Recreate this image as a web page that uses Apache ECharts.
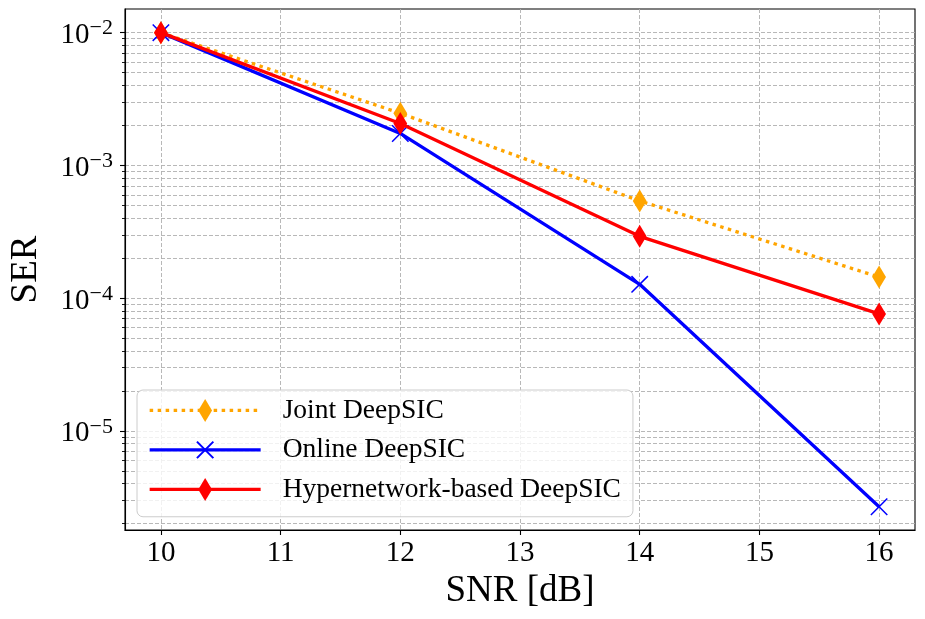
<!DOCTYPE html>
<html>
<head>
<meta charset="utf-8">
<script src="https://cdn.jsdelivr.net/npm/echarts@6/dist/echarts.min.js"></script>
<style>html,body{margin:0;padding:0;background:#fff}#c{width:925px;height:619px}</style>
</head>
<body>
<div id="c"></div>
<script>
const snr = [10, 12, 14, 16];
const jointSER = [1.0e-2, 2.47e-3, 5.4e-4, 1.44e-4];
const onlineSER = [1.0e-2, 1.74e-3, 1.27e-4, 2.68e-6];
const hyperSER = [1.0e-2, 2.07e-3, 2.92e-4, 7.6e-5];
const seriesNames = ['Joint DeepSIC', 'Online DeepSIC', 'Hypernetwork-based DeepSIC'];
const xTicks = [10, 11, 12, 13, 14, 15, 16];
const yMajor = [1e-5, 1e-4, 1e-3, 1e-2];
const yMinor = [];
[1e-6, 1e-5, 1e-4, 1e-3, 1e-2].forEach(d => { for (let k = 2; k <= 9; k++) yMinor.push(+(k * d).toPrecision(3)); });

const FONT = 'Liberation Serif';
const diamond = 'path://M-1,0M0,-1L0.6,0L0,1L-0.6,0Z M1,0';
const cross = 'path://M-0.2,-0.2M0,0L1,1M1,0L0,1M1.2,1.2';
const gridLine = { show: true, lineStyle: { color: '#b0b0b0', width: 0.9, type: [4, 2] } };
const LW = 3.3;

const chart = echarts.init(document.getElementById('c'), null, { renderer: 'canvas' });
const pairs = arr => snr.map((x, i) => [x, arr[i]]);
chart.setOption({
  animation: false,
  backgroundColor: '#fff',
  grid: { left: 123, right: 10, top: 9, bottom: 89, show: true, borderColor: '#000', borderWidth: 1.1, backgroundColor: 'transparent' },
  xAxis: {
    type: 'value', min: 9.7, max: 16.3,
    axisLine: { show: true, lineStyle: { color: '#000', width: 1.1 } },
    axisTick: { show: true, length: 5, lineStyle: { color: '#000', width: 1.1 }, customValues: xTicks },
    axisLabel: { customValues: xTicks, color: '#000', fontFamily: FONT, fontSize: 29, margin: 9 },
    splitLine: gridLine,
    name: 'SNR [dB]', nameLocation: 'middle', nameGap: 42,
    nameTextStyle: { color: '#000', fontFamily: FONT, fontSize: 37 }
  },
  yAxis: [{
    type: 'log', logBase: 10, min: 1.79e-6, max: 1.507e-2,
    axisLine: { show: true, lineStyle: { color: '#000', width: 1.1 } },
    axisTick: { show: true, length: 5, lineStyle: { color: '#000', width: 1.1 }, customValues: yMajor },
    axisLabel: {
      customValues: yMajor, margin: 12, color: '#000',
      formatter: v => { const e = Math.round(Math.log10(v)); return '{b|10}{s|−' + (-e) + '}'; },
      rich: {
        b: { fontFamily: FONT, fontSize: 29, color: '#000', lineHeight: 30, padding: [6, 0, 0, 0] },
        s: { fontFamily: FONT, fontSize: 22, color: '#000', verticalAlign: 'top', lineHeight: 22 }
      }
    },
    splitLine: gridLine,
    name: 'SER', nameLocation: 'middle', nameGap: 80,
    nameTextStyle: { color: '#000', fontFamily: FONT, fontSize: 37 }
  }, {
    type: 'log', logBase: 10, min: 1.79e-6, max: 1.507e-2, position: 'left',
    axisLine: { show: false },
    axisTick: { show: true, length: 3, lineStyle: { color: '#000', width: 0.9 }, customValues: yMinor },
    axisLabel: { show: false },
    splitLine: gridLine
  }],
  legend: {
    orient: 'vertical', left: 137, top: 390,
    itemWidth: 111, itemHeight: 28.75, itemGap: 10.75,
    padding: [6, 12, 13, 11],
    backgroundColor: 'rgba(255,255,255,0.8)', borderColor: '#cccccc', borderWidth: 1, borderRadius: 6,
    textStyle: { fontFamily: FONT, fontSize: 27.5, color: '#000', lineHeight: 28.75, padding: [0, 0, 0, 17] },
    lineStyle: { width: LW },
    data: seriesNames,
    selectedMode: false
  },
  series: [
    {
      name: seriesNames[0], type: 'line', data: pairs(jointSER),
      symbol: diamond, symbolSize: 23,
      itemStyle: { color: '#FFA500', borderWidth: 0 },
      lineStyle: { color: '#FFA500', width: LW, type: [3.5, 4.5], cap: 'butt' },
      emphasis: { disabled: true }, z: 2
    },
    {
      name: seriesNames[1], type: 'line', data: pairs(onlineSER),
      symbol: cross, symbolSize: 23,
      itemStyle: { color: '#0000FF', borderColor: '#0000FF', borderWidth: 1.5 },
      lineStyle: { color: '#0000FF', width: LW },
      emphasis: { disabled: true }, z: 3
    },
    {
      name: seriesNames[2], type: 'line', data: pairs(hyperSER),
      symbol: diamond, symbolSize: 23,
      itemStyle: { color: '#FF0000', borderWidth: 0 },
      lineStyle: { color: '#FF0000', width: LW },
      emphasis: { disabled: true }, z: 4
    }
  ]
});
</script>
</body>
</html>
